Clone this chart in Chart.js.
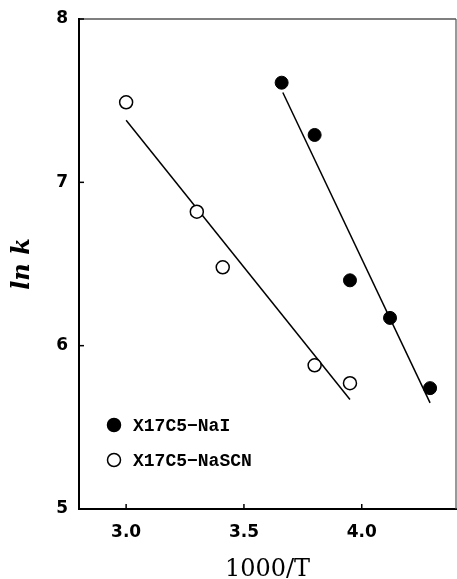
<!DOCTYPE html>
<html>
<head>
<meta charset="utf-8">
<script src="https://cdn.jsdelivr.net/npm/chart.js@4.4.1/dist/chart.umd.min.js"></script>
<style>
    html, body { margin: 0; padding: 0; background: #fff; }
    #chart { display: block; }
</style>
</head>
<body>
<canvas id="chart" width="457" height="579"></canvas>
<script>
// Data
const naiLabel = 'X17C5\u2212NaI';
const scnLabel = 'X17C5\u2212NaSCN';
const naiX = [3.66, 3.80, 3.95, 4.12, 4.29];
const naiY = [7.61, 7.29, 6.40, 6.17, 5.74];
const scnX = [3.00, 3.30, 3.41, 3.80, 3.95];
const scnY = [7.49, 6.82, 6.48, 5.88, 5.77];
// fitted lines (end points)
const naiFitX = [3.665, 4.29];
const naiFitY = [7.55, 5.65];
const scnFitX = [3.00, 3.95];
const scnFitY = [7.38, 5.67];
// axis ticks
const xTicks = [3.0, 3.5, 4.0];
const yTicks = [5, 6, 7, 8];

const toPoints = (xs, ys) => xs.map((x, i) => ({ x: x, y: ys[i] }));

// Frame + inward tick marks
const framePlugin = {
    id: 'frame',
    afterDatasetsDraw(chart) {
        const { ctx, chartArea: a, scales } = chart;
        ctx.save();
        ctx.strokeStyle = '#000';
        ctx.lineWidth = 1.2;
        ctx.beginPath();
        ctx.moveTo(a.left, a.top);
        ctx.lineTo(a.right, a.top);
        ctx.stroke();
        ctx.strokeStyle = '#555';
        ctx.beginPath();
        ctx.moveTo(a.right, a.top);
        ctx.lineTo(a.right, a.bottom);
        ctx.stroke();

        ctx.strokeStyle = '#000';
        ctx.lineWidth = 1.5;
        xTicks.forEach(v => {
            const px = scales.x.getPixelForValue(v);
            ctx.beginPath();
            ctx.moveTo(px, a.bottom);
            ctx.lineTo(px, a.bottom - 5);
            ctx.stroke();
        });
        yTicks.forEach(v => {
            const py = scales.y.getPixelForValue(v);
            ctx.beginPath();
            ctx.moveTo(a.left, py);
            ctx.lineTo(a.left + 5, py);
            ctx.stroke();
        });
        ctx.restore();
    }
};

// Legend in lower-left corner of the plot
const legendPlugin = {
    id: 'boxLegend',
    afterDraw(chart) {
        const { ctx, chartArea: a } = chart;
        const items = [
            { label: naiLabel, fill: '#000', dy: 84 },
            { label: scnLabel, fill: '#fff', dy: 49 }
        ];
        ctx.save();
        ctx.font = 'bold 18px "Liberation Mono"';
        ctx.textBaseline = 'middle';
        ctx.fillStyle = '#000';
        items.forEach(it => {
            const cx = a.left + 35, cy = a.bottom - it.dy;
            ctx.beginPath();
            ctx.arc(cx, cy, 6.5, 0, Math.PI * 2);
            ctx.fillStyle = it.fill;
            ctx.fill();
            ctx.lineWidth = 1.5;
            ctx.strokeStyle = '#000';
            ctx.stroke();
            ctx.fillStyle = '#000';
            ctx.fillText(it.label, a.left + 54, cy + 1);
        });
        ctx.restore();
    }
};

new Chart(document.getElementById('chart'), {
    type: 'scatter',
    data: {
        datasets: [
            {
                label: naiLabel,
                data: toPoints(naiX, naiY),
                pointRadius: 6.5,
                pointBackgroundColor: '#000',
                pointBorderColor: '#000',
                pointBorderWidth: 1
            },
            {
                label: scnLabel,
                data: toPoints(scnX, scnY),
                pointRadius: 6.5,
                pointBackgroundColor: '#fff',
                pointBorderColor: '#000',
                pointBorderWidth: 1.5
            },
            {
                type: 'line',
                label: 'fit NaI',
                data: toPoints(naiFitX, naiFitY),
                borderColor: '#000',
                borderWidth: 1.5,
                pointRadius: 0,
                fill: false
            },
            {
                type: 'line',
                label: 'fit NaSCN',
                data: toPoints(scnFitX, scnFitY),
                borderColor: '#000',
                borderWidth: 1.5,
                pointRadius: 0,
                fill: false
            }
        ]
    },
    options: {
        responsive: false,
        animation: false,
        layout: { autoPadding: false, padding: { top: 19, right: 1, left: 0, bottom: 0 } },
        plugins: {
            legend: { display: false },
            tooltip: { enabled: false }
        },
        scales: {
            x: {
                type: 'linear',
                min: 2.8,
                max: 4.4,
                afterBuildTicks: s => { s.ticks = xTicks.map(v => ({ value: v })); },
                afterFit: s => { s.height = 70; s.paddingLeft = 0; s.paddingRight = 0; },
                grid: { display: false, drawTicks: false },
                border: { color: '#000', width: 2 },
                ticks: {
                    padding: 13,
                    color: '#000',
                    font: { family: 'DejaVu Sans', weight: 'bold', size: 17 },
                    callback: v => v.toFixed(1)
                },
                title: {
                    display: true,
                    text: '1000/T',
                    color: '#000',
                    font: { family: 'DejaVu Serif', size: 24, lineHeight: 0.8 },
                    padding: { top: 0, bottom: 0 }
                }
            },
            y: {
                type: 'linear',
                min: 5,
                max: 8,
                afterBuildTicks: s => { s.ticks = yTicks.map(v => ({ value: v })); },
                afterFit: s => { s.width = 79; s.paddingTop = 0; s.paddingBottom = 0; },
                grid: { display: false, drawTicks: false },
                border: { color: '#000', width: 2 },
                ticks: {
                    padding: 11,
                    color: '#000',
                    font: { family: 'DejaVu Sans', weight: 'bold', size: 17 },
                    callback: v => String(v)
                },
                title: {
                    display: true,
                    text: 'ln k',
                    color: '#000',
                    font: { family: 'DejaVu Serif', style: 'italic', weight: 'bold', size: 24, lineHeight: 1 },
                    padding: { top: 11, bottom: 0 }
                }
            }
        }
    },
    plugins: [framePlugin, legendPlugin]
});
</script>
</body>
</html>
